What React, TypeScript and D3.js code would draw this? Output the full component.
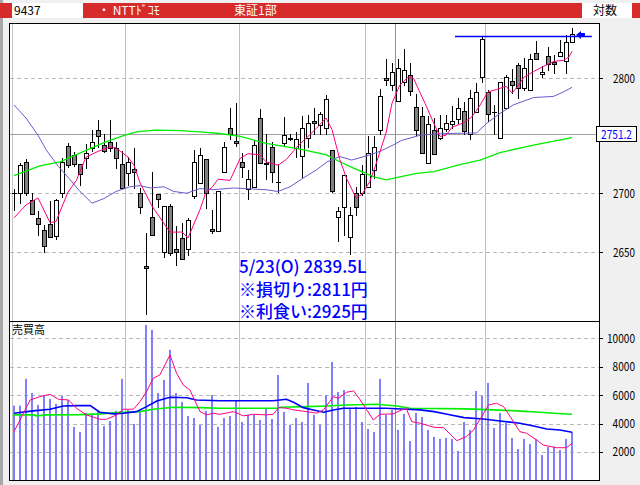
import React from "react";
import * as d3 from "d3";

// ---------- data ----------
const opens = [2700,2700,2727,2694.5,2678.5,2668.5,2674,2663.5,2700,2740.5,2733,2725.5,2730,2738.5,2754.5,2741.5,2744.5,2739,2725,2717,2721,2700,2638.5,2680,2699.5,2650,2689,2652.5,2662,2652.5,2697.5,2709,2729.5,2669.5,2668,2718.5,2756,2745,2727,2703.5,2705.5,2765,2726,2739.5,2709.5,2743.5,2748,2739,2732,2748,2762.5,2759,2756,2737,2680,2688,2663,2700,2700.5,2705.5,2720,2754.5,2800,2794.5,2780,2797,2803,2774.5,2766.5,2726,2754.5,2747.5,2755.5,2760,2764.5,2771.5,2751,2770,2801,2788,2770.5,2748,2773.5,2797.5,2812,2791.5,2789.5,2822.5,2803.5,2820,2814.5,2819.5,2815.5,2832.5];
const highs = [2703.5,2726,2729,2700,2685,2673,2693.5,2695,2730.5,2743,2735.5,2725.5,2742,2754.5,2763.5,2751.5,2763.5,2744,2736,2731.5,2738.5,2704.5,2666,2718.5,2699.5,2689,2691,2672.5,2674.5,2679,2737,2738.5,2729.5,2686,2701.5,2744.5,2773.5,2778,2734.5,2720,2746,2773,2751.5,2744.5,2725.5,2766,2751.5,2752.5,2766.5,2767.5,2773.5,2770.5,2785.5,2737,2688,2715.5,2688.5,2705.5,2724,2749,2749,2790.5,2817,2813.5,2817,2826,2814,2786,2775,2767,2765,2767.5,2767.5,2775.5,2782.5,2779.5,2789.5,2796,2837.5,2789.5,2776.5,2796.5,2803,2808,2813.5,2818,2821.5,2833,2810.5,2828,2820.5,2834,2838.5,2844.5];
const lows = [2686,2691.5,2698.5,2682.5,2664.5,2650.5,2663,2661.5,2697,2722.5,2723.5,2707,2721.5,2736,2740,2735.5,2736,2721.5,2704.5,2707,2704.5,2683.5,2598.5,2664.5,2688.5,2646,2647.5,2639.5,2644.5,2648,2696,2709,2687.5,2666.5,2668,2718.5,2746.5,2741,2714,2695,2705.5,2726,2712,2710,2701,2741.5,2746,2731.5,2713,2740,2751.5,2751.5,2751.5,2701,2659.5,2664.5,2648.5,2681.5,2698.5,2705.5,2713,2751.5,2794,2789.5,2780,2794,2785.5,2750,2734.5,2726,2733.5,2746.5,2754,2756,2760.5,2751.5,2746.5,2770,2797,2762,2751.5,2748,2773.5,2787,2782.5,2789.5,2789.5,2817,2801.5,2807.5,2805,2819.5,2805,2832.5];
const closes = [2700,2724.5,2700,2682.5,2674,2655.5,2663,2694,2726.5,2724,2725,2716.5,2734.5,2744,2749.5,2736,2739,2730,2704.5,2727,2718.5,2688,2636.5,2664.5,2695,2689,2649,2650.5,2644.5,2677.5,2727,2733,2700.5,2668,2701.5,2740,2751.5,2743,2722.5,2712,2741.5,2726,2725,2718,2709.5,2750,2746.5,2746.5,2756,2760.5,2761,2768.5,2781.5,2702,2685,2715.5,2681.5,2688,2716.5,2734.5,2739.5,2784,2798.5,2805.5,2809,2807.5,2789,2754.5,2734.5,2760,2733.5,2756,2760.5,2762,2773.5,2754,2783,2788,2835,2768.5,2770.5,2796.5,2801,2794.5,2791,2809.5,2817,2817,2805.5,2812.5,2812.5,2823,2832.5,2839.5];
const volumes = [5260,5260,7140,6150,5310,6010,5730,5380,5940,5660,3760,3410,4750,4610,4890,3830,4180,4890,7140,4960,3970,4960,10940,10590,6150,7070,9190,6150,5520,4530,4390,3900,4890,6010,3760,4390,4530,5590,4110,4610,4610,4250,5030,4320,7420,4820,3900,4390,4110,6860,4610,3900,6010,8330,6220,6360,5030,5170,4110,3620,3410,7140,4610,4960,3550,4680,2770,4750,4460,3550,3060,2920,2990,2920,2070,4110,3550,6290,5940,6860,3690,4750,4040,2990,2210,2920,2570,2920,1790,2350,2350,2140,2920,3410];

// moving-average lines, read as [day, value] points
const priceMA5: [number, number][] = [[0,2679],[2,2690],[4,2696],[6,2675],[7,2676],[9,2701],[10.4,2711],[12,2731],[14,2736],[16,2740],[17,2739],[19,2731],[20,2724],[21,2709],[23,2689],[26,2667],[28,2667],[29,2662],[31,2686],[32,2701],[33,2705],[34,2712],[36,2711],[37.7,2730],[39,2734],[41,2733],[42,2727],[44,2724],[45.4,2729],[47,2739],[49,2749],[50.4,2756],[52,2765],[53,2755],[54.3,2729],[55.4,2713],[57,2696],[58,2699],[59.3,2710],[60.4,2726],[62,2752],[63,2778],[64.3,2794],[65.7,2801],[66.6,2800],[67.1,2794],[67.7,2787],[68.5,2778],[70,2760],[71,2749],[72,2750],[73,2757],[75,2761],[76.3,2766],[77.4,2774],[79,2788],[80.4,2790],[82,2793],[83,2787],[84,2793],[85,2801],[86.6,2806],[88,2810],[90,2815],[91.6,2816],[92.5,2819],[93,2824]];
const priceMA25: [number, number][] = [[0,2776.5],[2,2765],[4,2750],[5.4,2737],[7.4,2723],[9.2,2712.5],[11,2701.5],[13,2691.5],[15,2695.5],[17,2701.5],[19.3,2705.5],[21,2706.5],[22.7,2704.5],[25,2705.5],[26.6,2701.5],[28.8,2700],[31,2704],[33.2,2703],[36.6,2704.5],[42,2703],[44,2701.5],[46,2705.5],[48.2,2713],[50.4,2720],[52.2,2727],[54.3,2731.5],[56.3,2728.5],[59.3,2733],[61,2736],[63.2,2741.5],[64.6,2745.5],[67.7,2750],[70,2751],[72.2,2751.5],[77.1,2752],[78.8,2760.5],[81,2769],[83.2,2776.5],[86.6,2783],[89.9,2784],[91.6,2788],[93,2792]];
const priceMA75: [number, number][] = [[0,2715],[4.3,2723.5],[7.7,2727],[11.6,2736],[15.4,2744.5],[18.5,2750],[20.4,2753],[23.5,2754.5],[27.7,2754],[31,2753],[34.3,2751.5],[37.7,2749],[42,2743],[47.7,2738],[52.1,2733],[54.3,2727],[56.6,2721.5],[60,2714],[62.1,2711.5],[64.3,2714],[67.1,2717],[70,2718.5],[74.3,2724.5],[77.7,2728.5],[81,2735],[86.6,2741.5],[93,2748]];
const volMA5: [number, number][] = [[0,3430],[2.7,5660],[4.3,5890],[6,6060],[7.4,5710],[9.1,5660],[10.4,5080],[12.1,4610],[14.3,4300],[15.4,4300],[17.1,4610],[18.2,5010],[19.9,5010],[21,5540],[22.1,6250],[23.2,7190],[24.3,7420],[26,8830],[27.1,7540],[28.2,6720],[29.3,6370],[31,4840],[32.1,4610],[33.2,4730],[34.3,4650],[36.6,4840],[38.2,4540],[39.9,4650],[42.1,4610],[43.2,4650],[44.1,5120],[45.4,5080],[46.6,4960],[48.8,4840],[50.4,4730],[51.6,4960],[53.2,5890],[54.1,5780],[55.4,6200],[56.6,6300],[57.7,5660],[58.8,4960],[59.9,4250],[61,4650],[63.2,4680],[64.6,4960],[65.4,5030],[66.3,4130],[67.7,4020],[70,3740],[71.6,3710],[73.8,2800],[75.4,3080],[76.6,3550],[79.1,5310],[80.4,5430],[81.6,5190],[82.7,4490],[84.3,3430],[85.4,3320],[87.1,2850],[88.2,2490],[90.4,2300],[92.1,2300],[93,2610]];
const volMA25: [number, number][] = [[0,4730],[3.2,4890],[6,5010],[8.2,5240],[10.4,5260],[12.7,5260],[14.3,4800],[16.6,4680],[18.2,4730],[20.4,4840],[22.1,5190],[23.8,5590],[26,5850],[28.8,5820],[30.4,5660],[34.3,5610],[43.2,5610],[45.4,5710],[46.6,5500],[48.2,5120],[49.9,4960],[51.6,4800],[53.2,4960],[54.9,5080],[62,5080],[65.4,5010],[67.7,4960],[70,4840],[72.2,4650],[75,4420],[78.2,4320],[81,4180],[84.3,4020],[86.6,3830],[88.8,3620],[91,3550],[93,3390]];
const volMA75: [number, number][] = [[0,4610],[3.2,4610],[3.8,4540],[5.4,4610],[11,4630],[14.3,4680],[17.1,4770],[21,4840],[23.2,5010],[24.9,5080],[26.6,5150],[31,5120],[34.3,5080],[43.8,5080],[44.3,5150],[48.8,5190],[52.1,5240],[55.4,5310],[60.4,5360],[63.8,5240],[66,5080],[75.4,5030],[79.9,4960],[83.8,4890],[87.7,4800],[89.9,4730],[93,4650]];

const priceTicks = [2650, 2700, 2800];
const volumeTicks = [2000, 4000, 6000, 8000, 10000];
const monthBreaks = [18.5, 37.5, 58.5, 78.5];
const weekMarker = 63.5;
const currentLevel = 2751.2;
const resistanceLevel = 2837.7;
const resistanceSpan = [73.5, 96.3];
const lastClose = 2839.5;
const annotation = ["5/23(O) 2839.5L", "※損切り:2811円", "※利食い:2925円"];
const headerCode = "9437";
const headerName = "・  NTTﾄﾞｺﾓ";
const headerMarket = "東証1部";
const headerScale = "対数";
const volumeTitle = "売買高";

// ---------- layout ----------
const W = 640, H = 485;
const L = 10, R = 599;
const PT = 23, PB = 321, VT = 322, VB = 480;
const FONT = "'Noto Sans CJK JP', 'Noto Sans', sans-serif";

const x = d3.scaleLinear().domain([0, 93]).range([14, 572]);
const yP = d3.scaleLog().domain([2650, 2800]).range([252.3, 78.3]);
const yV = d3.scaleLinear().domain([0, 10000]).range([480.4, 338.3]);

const priceLine = d3.line<[number, number]>().x(d => x(d[0])).y(d => yP(d[1]));
const volLine = d3.line<[number, number]>().x(d => x(d[0])).y(d => yV(d[1]));

export default function App() {
  const px = (v: number) => Math.round(v) + 0.5;
  return (
    <div style={{ position: "fixed", left: 0, top: 0, width: W, height: H }}>
      <svg width={W} height={H} style={{ display: "block" }} fontFamily={FONT}>
        <defs>
          <clipPath id="clipP"><rect x={L} y={PT} width={R - L} height={PB - PT} /></clipPath>
          <clipPath id="clipV"><rect x={L} y={VT} width={R - L} height={VB - VT} /></clipPath>
        </defs>
        <rect x={0} y={0} width={W} height={H} fill="#f0f0f0" />
        <rect x={0} y={0} width={3} height={H} fill="#a8a8a8" />
        {/* header */}
        <rect x={0} y={3} width={W} height={15} fill="#d72b2b" />
        <rect x={12} y={3} width={71} height={15} fill="#ffffff" />
        <rect x={582} y={3} width={50} height={15} fill="#ffffff" />
        <text x={14} y={15} fontSize={12} fill="#000">{headerCode}</text>
        <text x={98} y={15} fontSize={12} fill="#fff">{headerName}</text>
        <text x={234} y={15} fontSize={12} fill="#fff">{headerMarket}</text>
        <text x={593} y={15} fontSize={12} fill="#000">{headerScale}</text>

        {/* plot backgrounds */}
        <rect x={L} y={PT} width={R - L} height={VB - PT} fill="#fff" />
        <line x1={12.5} x2={12.5} y1={PT} y2={VB} stroke="#c8c8c8" />

        {/* grid: horizontal */}
        {priceTicks.map(t => (
          <line key={"pg" + t} x1={L} x2={R} y1={px(yP(t))} y2={px(yP(t))} stroke="#b8b8b8" strokeDasharray="4,3" />
        ))}
        {volumeTicks.map(t => (
          <line key={"vg" + t} x1={L} x2={R} y1={px(yV(t))} y2={px(yV(t))} stroke="#b8b8b8" strokeDasharray="4,3" />
        ))}
        <line x1={L} x2={R} y1={px(yP(currentLevel))} y2={px(yP(currentLevel))} stroke="#a0a0a0" />
        {/* grid: vertical */}
        {monthBreaks.map(m => (
          <line key={"mb" + m} x1={px(x(m))} x2={px(x(m))} y1={PT} y2={VB} stroke="#c0c0c0" />
        ))}
        <line x1={px(x(weekMarker))} x2={px(x(weekMarker))} y1={PT} y2={VB} stroke="#909090" />

        {/* price panel */}
        <g clipPath="url(#clipP)">
          {opens.map((o, i) => {
            const c = closes[i];
            const X = Math.round(x(i));
            const yo = Math.round(yP(o)), yc = Math.round(yP(c));
            const top = Math.min(yo, yc), bot = Math.max(yo, yc);
            const up = c >= o;
            return (
              <g key={"c" + i}>
                <line x1={X + 0.5} x2={X + 0.5} y1={Math.round(yP(highs[i]))} y2={Math.round(yP(lows[i])) + 1} stroke="#000" />
                {bot - top < 1 ? (
                  <line x1={X - 2} x2={X + 3} y1={top + 0.5} y2={top + 0.5} stroke="#000" />
                ) : (
                  <rect x={X - 1.5} y={top + 0.5} width={4} height={bot - top} fill={up ? "#fff" : "#808080"} stroke="#000" />
                )}
              </g>
            );
          })}
          <path d={priceLine(priceMA75) || ""} fill="none" stroke="#00ee00" strokeWidth={1.3} />
          <path d={priceLine(priceMA25) || ""} fill="none" stroke="#6a5acd" strokeWidth={1} />
          <path d={priceLine(priceMA5) || ""} fill="none" stroke="#ff0080" strokeWidth={1} />
          <line x1={x(resistanceSpan[0])} x2={x(resistanceSpan[1])} y1={px(yP(resistanceLevel))} y2={px(yP(resistanceLevel))} stroke="#0000ff" strokeWidth={1.5} />
          {(() => {
            const ax = x(93) + 4, ay = yP(lastClose) + 1;
            return <path d={`M${ax},${ay} L${ax + 5},${ay - 4} L${ax + 5},${ay - 2} L${ax + 9},${ay - 2} L${ax + 9},${ay + 2} L${ax + 5},${ay + 2} L${ax + 5},${ay + 4} Z`} fill="#0000ff" />;
          })()}
        </g>
        {annotation.map((s, k) => (
          <text key={"an" + k} x={239} y={273 + k * 22.7} fontSize={17} fill="#0000ff" fontWeight={500}>{s}</text>
        ))}

        {/* volume panel */}
        <g clipPath="url(#clipV)">
          {volumes.map((v, i) => (
            <rect key={"v" + i} x={Math.round(x(i)) - 1} y={yV(v)} width={2} height={yV(0) - yV(v)} fill="#8080ff" />
          ))}
          <path d={volLine(volMA75) || ""} fill="none" stroke="#00ee00" strokeWidth={1.6} />
          <path d={volLine(volMA25) || ""} fill="none" stroke="#0000ff" strokeWidth={1.6} />
          <path d={volLine(volMA5) || ""} fill="none" stroke="#ff0080" strokeWidth={1} />
        </g>
        <text x={12} y={334} fontSize={11} fill="#000">{volumeTitle}</text>

        {/* frames */}
        <rect x={L - 0.5} y={PT + 0.5} width={R - L + 1} height={VB - PT} fill="none" stroke="#000" />
        <line x1={L} x2={R} y1={PB + 0.5} y2={PB + 0.5} stroke="#000" />

        {/* right axis */}
        {priceTicks.map(t => (
          <g key={"pt" + t}>
            <line x1={R} x2={R + 4} y1={px(yP(t))} y2={px(yP(t))} stroke="#000" />
            <text x={635} y={yP(t) + 4.5} fontSize={12} textAnchor="end" fill="#000" textLength={22} lengthAdjust="spacingAndGlyphs">{t}</text>
          </g>
        ))}
        {volumeTicks.map(t => (
          <g key={"vt" + t}>
            <line x1={R} x2={R + 4} y1={px(yV(t))} y2={px(yV(t))} stroke="#000" />
            <text x={635} y={yV(t) + 4.5} fontSize={12} textAnchor="end" fill="#000" textLength={String(t).length * 5.6} lengthAdjust="spacingAndGlyphs">{t}</text>
          </g>
        ))}
        <rect x={596.5} y={126.5} width={40} height={15} fill="#fff" stroke="#000" />
        <text x={616.5} y={138.5} fontSize={12} textAnchor="middle" fill="#0000ff" textLength={31} lengthAdjust="spacingAndGlyphs">{currentLevel.toFixed(1)}</text>
      </svg>
    </div>
  );
}
